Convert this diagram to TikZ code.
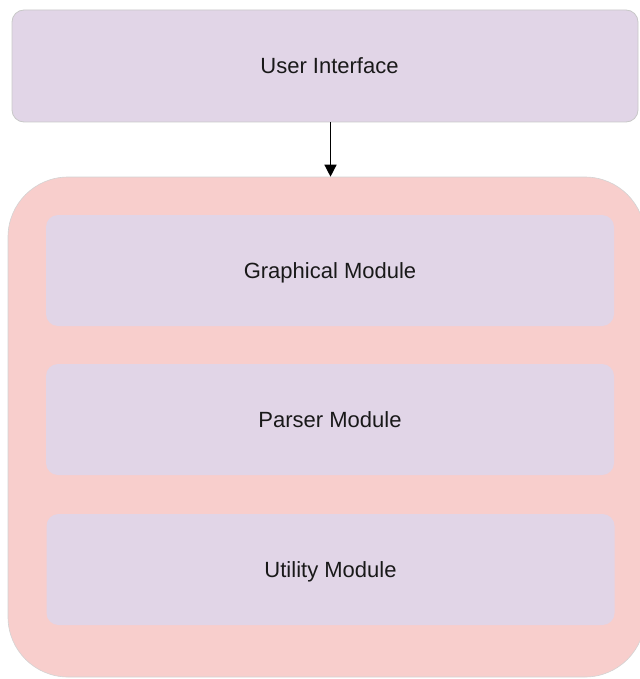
\documentclass[tikz,border=0pt]{standalone}
\usepackage{fontspec}
\setmainfont{Liberation Sans}
\usetikzlibrary{arrows.meta}
\definecolor{lavender}{HTML}{E1D5E7}
\definecolor{blush}{HTML}{F8CECC}
\definecolor{edgegray}{HTML}{C8C8C8}
\tikzset{
  layer/.style={fill=lavender, rounded corners=12pt, inner sep=0pt,
    text height=15.8pt, text depth=0pt,
    font=\fontsize{22}{26}\selectfont, text=black!90},
  uibox/.style={layer, draw=edgegray, line width=0.8pt,
    minimum width=626pt, minimum height=112pt},
  module/.style={layer, minimum width=568pt, minimum height=111pt},
  core/.style={fill=blush, draw=edgegray!80, line width=0.6pt,
    rounded corners=60pt, minimum width=637pt, minimum height=500pt, inner sep=0pt},
  flow/.style={-{Triangle[width=12pt,length=12pt]}, line width=1.4pt, black}
}
\begin{document}
\begin{tikzpicture}[x=1pt, y=-1pt]
  \useasboundingbox (0,0) rectangle (639,679);
  % top layer (label sits on the arrow's axis)
  \node[uibox] (ui) at (325,66) {\hspace*{9pt}User Interface};
  % core container
  \node[core] (core) at (326.5,427) {};
  % modules inside the core
  \node[module] (gm) at (330,270.5) {Graphical Module};
  \node[module] (pm) at (330,419.5) {Parser Module};
  \node[module] (um) at (330.5,569.5) {Utility Module};
  % call from the interface into the core
  \draw[flow] (ui.south -| 330.5,0) -- (core.north -| 330.5,0);
\end{tikzpicture}
\end{document}
